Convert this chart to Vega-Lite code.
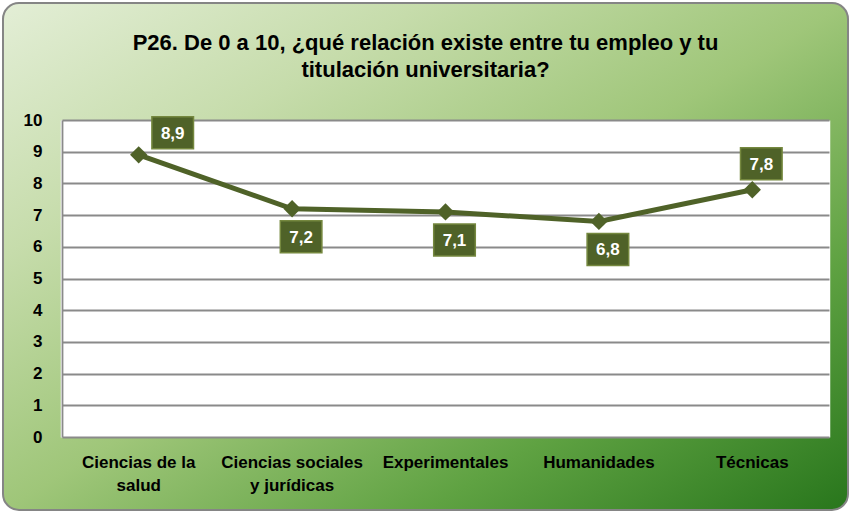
{
  "$schema": "https://vega.github.io/schema/vega-lite/v6.json",
  "width": 845,
  "height": 507,
  "autosize": {"type": "none"},
  "padding": {"left": 3, "top": 3, "right": 4, "bottom": 5},
  "background": "white",
  "view": {
    "fill": {
      "gradient": "linear",
      "x1": 0, "y1": 0, "x2": 1, "y2": 1,
      "stops": [
        {"offset": 0, "color": "#e3eed6"},
        {"offset": 0.25, "color": "#c6dcab"},
        {"offset": 0.5, "color": "#9fc679"},
        {"offset": 0.75, "color": "#5fa242"},
        {"offset": 1, "color": "#28761c"}
      ]
    },
    "stroke": "#858585",
    "strokeWidth": 2,
    "cornerRadius": 16
  },
  "config": {
    "font": "Liberation Sans, Arial, sans-serif",
    "locale": {"number": {"decimal": ",", "thousands": ".", "grouping": [3], "currency": ["", " €"]}}
  },
  "title": {
    "text": ["P26. De 0 a 10, ¿qué relación existe entre tu empleo y tu", "titulación universitaria?"],
    "fontSize": 22,
    "fontWeight": "bold",
    "color": "#000000",
    "anchor": "middle",
    "frame": "group",
    "offset": -79,
    "lineHeight": 27
  },
  "data": {
    "values": [
      {"area": "Ciencias de la salud", "valor": 8.9},
      {"area": "Ciencias sociales y jurídicas", "valor": 7.2},
      {"area": "Experimentales", "valor": 7.1},
      {"area": "Humanidades", "valor": 6.8},
      {"area": "Técnicas", "valor": 7.8}
    ]
  },
  "encoding": {
    "x": {
      "field": "area",
      "type": "nominal",
      "sort": null,
      "scale": {"type": "band", "range": [59, 826], "paddingInner": 0, "paddingOuter": 0},
      "axis": {
        "orient": "top",
        "offset": -434,
        "title": null,
        "domain": false,
        "ticks": false,
        "grid": true,
        "bandPosition": 0.5,
        "gridColor": "#ffffff",
        "gridOpacity": 1,
        "gridWidth": 155.5,
        "labelAngle": 0,
        "labelFontSize": 17,
        "labelFontWeight": "bold",
        "labelColor": "#000000",
        "labelPadding": -17,
        "labelLineHeight": 23,
        "labelBaseline": "top",
        "labelLimit": 300,
        "labelExpr": "datum.value == 'Ciencias de la salud' ? ['Ciencias de la', 'salud'] : datum.value == 'Ciencias sociales y jurídicas' ? ['Ciencias sociales', 'y jurídicas'] : datum.value"
      }
    },
    "y": {
      "field": "valor",
      "type": "quantitative",
      "scale": {"domain": [0, 10], "range": [434, 117], "nice": false, "zero": false},
      "axis": {
        "orient": "left",
        "offset": -59,
        "title": null,
        "values": [0, 1, 2, 3, 4, 5, 6, 7, 8, 9, 10],
        "ticks": false,
        "domain": true,
        "domainColor": "#8a8a8a",
        "domainWidth": 1.8,
        "grid": true,
        "gridColor": "#8a8a8a",
        "gridWidth": 1.8,
        "labelFontSize": 17,
        "labelFontWeight": "bold",
        "labelColor": "#000000",
        "labelPadding": 20
      }
    }
  },
  "layer": [
    {
      "mark": {"type": "line", "color": "#4f6228", "strokeWidth": 5}
    },
    {
      "mark": {"type": "point", "shape": "diamond", "filled": true, "size": 300, "color": "#4f6228", "opacity": 1}
    },
    {
      "transform": [{"filter": "datum.area == 'Ciencias de la salud'"}],
      "mark": {"type": "point", "shape": "M-1.3,-1H1.3V1H-1.3Z", "size": 1024, "filled": true, "fill": "#4f6228", "stroke": "#75883f", "strokeWidth": 1.5, "opacity": 1, "xOffset": 34, "yOffset": -22}
    },
    {
      "transform": [{"filter": "datum.area == 'Ciencias de la salud'"}],
      "mark": {"type": "text", "color": "#ffffff", "fontSize": 17, "fontWeight": "bold", "align": "center", "baseline": "middle", "xOffset": 34, "yOffset": -21},
      "encoding": {"text": {"field": "valor", "type": "quantitative", "format": ".1f"}}
    },
    {
      "transform": [{"filter": "datum.area == 'Técnicas'"}],
      "mark": {"type": "point", "shape": "M-1.3,-1H1.3V1H-1.3Z", "size": 1024, "filled": true, "fill": "#4f6228", "stroke": "#75883f", "strokeWidth": 1.5, "opacity": 1, "xOffset": 9, "yOffset": -26}
    },
    {
      "transform": [{"filter": "datum.area == 'Técnicas'"}],
      "mark": {"type": "text", "color": "#ffffff", "fontSize": 17, "fontWeight": "bold", "align": "center", "baseline": "middle", "xOffset": 9, "yOffset": -25},
      "encoding": {"text": {"field": "valor", "type": "quantitative", "format": ".1f"}}
    },
    {
      "transform": [{"filter": "datum.valor < 7.5"}],
      "mark": {"type": "point", "shape": "M-1.3,-1H1.3V1H-1.3Z", "size": 1024, "filled": true, "fill": "#4f6228", "stroke": "#75883f", "strokeWidth": 1.5, "opacity": 1, "xOffset": 9, "yOffset": 28}
    },
    {
      "transform": [{"filter": "datum.valor < 7.5"}],
      "mark": {"type": "text", "color": "#ffffff", "fontSize": 17, "fontWeight": "bold", "align": "center", "baseline": "middle", "xOffset": 9, "yOffset": 29},
      "encoding": {"text": {"field": "valor", "type": "quantitative", "format": ".1f"}}
    }
  ]
}
